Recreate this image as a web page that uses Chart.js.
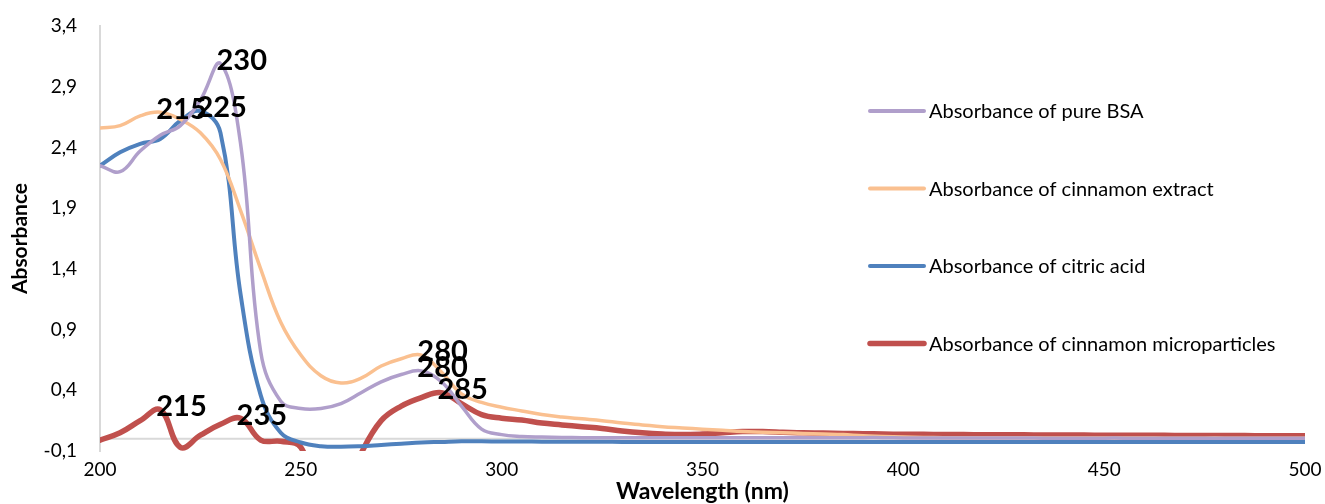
<!DOCTYPE html>
<html>
<head>
<meta charset="utf-8">
<script src="https://cdn.jsdelivr.net/npm/chart.js@4.4.1/dist/chart.umd.min.js"></script>
<style>
html,body{margin:0;padding:0;background:#fff;}
canvas{display:block;}
</style>
</head>
<body>
<canvas id="c" width="1325" height="504"></canvas>
<script>
const wavelengths = [200,205,210,215,220,225,230,235,240,245,250,255,260,265,270,275,280,285,290,295,
  300,305,310,315,320,325,330,335,340,345,350,355,360,365,370,375,380,385,390,395,
  400,405,410,415,420,425,430,435,440,445,450,455,460,465,470,475,480,485,490,495,500];

const seriesNames = ["Absorbance of pure BSA","Absorbance of cinnamon extract","Absorbance of citric acid","Absorbance of cinnamon microparticles"];

const pureBSA = [2.25,2.20,2.37,2.50,2.58,2.79,3.09,2.43,0.72,0.31,0.25,0.25,0.29,0.38,0.47,0.53,0.56,0.47,0.27,0.08,
  0.035,0.02,0.015,0.012,0.01,0.01,0.01,0.01,0.01,0.01,0.01,0.01,0.01,0.01,0.01,0.01,0.01,0.01,0.01,0.01,
  0.008,0.008,0.008,0.007,0.007,0.007,0.007,0.006,0.006,0.006,0.006,0.006,0.005,0.005,0.005,0.005,0.005,0.005,0.005,0.005,0.005];

const cinnamonExtract = [2.56,2.58,2.66,2.69,2.63,2.52,2.30,1.88,1.40,0.96,0.69,0.52,0.46,0.50,0.60,0.66,0.69,0.55,0.37,0.30,
  0.26,0.23,0.20,0.18,0.165,0.15,0.13,0.115,0.10,0.09,0.08,0.07,0.06,0.055,0.05,0.045,0.04,0.035,0.025,0.02,
  0.015,0.012,0.01,0.01,0.01,0.009,0.009,0.008,0.008,0.008,0.007,0.007,0.007,0.006,0.006,0.006,0.006,0.005,0.005,0.005,0.005];

const citricAcid = [2.25,2.36,2.43,2.47,2.62,2.70,2.52,1.19,0.36,0.05,-0.03,-0.06,-0.065,-0.06,-0.05,-0.04,-0.03,-0.025,-0.02,-0.02,
  -0.022,-0.022,-0.023,-0.023,-0.024,-0.024,-0.025,-0.025,-0.025,-0.025,-0.025,-0.025,-0.025,-0.025,-0.025,-0.025,-0.025,-0.025,-0.025,-0.025,
  -0.025,-0.025,-0.025,-0.025,-0.025,-0.025,-0.025,-0.025,-0.025,-0.025,-0.025,-0.025,-0.025,-0.025,-0.025,-0.025,-0.025,-0.025,-0.025,-0.025,-0.025];

const microparticles = [-0.01,0.05,0.15,0.24,-0.07,0.03,0.12,0.17,-0.01,-0.02,-0.07,-0.5,-0.5,-0.12,0.15,0.27,0.34,0.38,0.29,0.20,
  0.17,0.155,0.13,0.115,0.10,0.085,0.065,0.05,0.04,0.035,0.04,0.05,0.06,0.06,0.055,0.05,0.048,0.045,0.043,0.04,
  0.038,0.037,0.036,0.035,0.034,0.033,0.033,0.032,0.031,0.031,0.030,0.030,0.029,0.029,0.028,0.028,0.027,0.027,0.026,0.026,0.025];

const yTicks = [-0.1,0.4,0.9,1.4,1.9,2.4,2.9,3.4];
const xTicks = [200,250,300,350,400,450,500];

// peak labels: series index and wavelength of each labelled point
const peakSeries = [0,1,2,1,0,3,3,3];
const peakWaves  = [230,215,225,280,280,215,235,285];

const colors = ["#B09FCB","#FAC090","#4F81BD","#C0504D"];
const widths = [3.5,3.5,4,5.5];
const allSeries = [pureBSA,cinnamonExtract,citricAcid,microparticles];

const FONT = "Lato, 'Open Sans', sans-serif";

const zeroLine = {
  id:'zeroLine',
  beforeDatasetsDraw(chart){
    const {ctx, chartArea, scales:{y}} = chart;
    const py = y.getPixelForValue(0);
    ctx.save();
    ctx.strokeStyle = '#D9D9D9';
    ctx.lineWidth = 2;
    ctx.beginPath();
    ctx.moveTo(chartArea.left, py);
    ctx.lineTo(chartArea.right, py);
    ctx.stroke();
    ctx.restore();
  }
};

const peakLabels = {
  id:'peakLabels',
  afterDatasetsDraw(chart){
    const {ctx, scales:{x,y}} = chart;
    ctx.save();
    ctx.font = "bold 29px " + FONT;
    ctx.fillStyle = '#000';
    ctx.textAlign = 'left';
    ctx.textBaseline = 'middle';
    for (let i=0;i<peakSeries.length;i++){
      const s = peakSeries[i], w = peakWaves[i];
      const idx = wavelengths.indexOf(w);
      const v = allSeries[s][idx];
      const px = x.getPixelForValue(w), py = y.getPixelForValue(v);
      ctx.fillText(String(w), px - 4, py - 3);
    }
    ctx.restore();
  }
};

const sideLegend = {
  id:'sideLegend',
  afterDraw(chart){
    const {ctx} = chart;
    const x0 = 870, x1 = 924, tx = 929;
    const ys = [111, 188.5, 266, 343.5];
    ctx.save();
    ctx.font = "20px " + FONT;
    ctx.textBaseline = 'middle';
    ctx.fillStyle = '#000';
    chart.data.datasets.forEach((ds,i)=>{
      ctx.strokeStyle = ds.borderColor;
      ctx.lineWidth = i===3 ? 5.5 : 4;
      ctx.lineCap = 'round';
      ctx.beginPath();
      ctx.moveTo(x0, ys[i]);
      ctx.lineTo(x1, ys[i]);
      ctx.stroke();
      ctx.fillText(ds.label, tx, ys[i]+1);
    });
    ctx.restore();
  }
};

function build(){
  const datasets = allSeries.map((arr,i)=>({
    label: seriesNames[i],
    data: wavelengths.map((w,j)=>({x:w, y:arr[j]})),
    borderColor: colors[i],
    backgroundColor: colors[i],
    borderWidth: widths[i],
    pointRadius: 0,
    tension: 0.4,
    borderCapStyle: 'round',
    borderJoinStyle: 'round',
    fill: false
  }));
  new Chart(document.getElementById('c'), {
    type:'line',
    data:{datasets},
    options:{
      responsive:false,
      animation:false,
      layout:{padding:{left:0,right:20,top:26,bottom:0}},
      plugins:{legend:{display:false}, tooltip:{enabled:false}},
      scales:{
        x:{
          type:'linear', min:200, max:500,
          afterBuildTicks(scale){ scale.ticks = xTicks.map(v=>({value:v})); },
          afterFit(scale){ scale.height = 53; scale.paddingLeft = 0; scale.paddingRight = 0; },
          grid:{display:false, drawTicks:false},
          border:{display:false},
          ticks:{color:'#000', font:{family:FONT,size:19}, padding:7, maxRotation:0},
          title:{display:true, text:'Wavelength (nm)', color:'#000', font:{family:FONT,size:23,weight:'bold'}, padding:{top:0,bottom:-1}}
        },
        y:{
          type:'linear', min:-0.1, max:3.4,
          afterBuildTicks(scale){ scale.ticks = yTicks.map(v=>({value:v})); },
          afterFit(scale){ scale.width = 100; scale.paddingTop = 0; scale.paddingBottom = 0; },
          grid:{display:false, drawTicks:false},
          border:{display:true, color:'#D9D9D9', width:2},
          ticks:{color:'#000', font:{family:FONT,size:19}, padding:23,
            callback:(v)=>v.toFixed(1).replace('.',',')},
          title:{display:true, text:'Absorbance', color:'#000', font:{family:FONT,size:21,weight:'bold'}, padding:{top:8,bottom:0}}
        }
      }
    },
    plugins:[zeroLine, peakLabels, sideLegend]
  });
}

Promise.all([
  document.fonts.load("19px Lato"),
  document.fonts.load("bold 19px Lato"),
  document.fonts.load("bold 27px Lato")
]).then(build, build);
</script>
</body>
</html>
